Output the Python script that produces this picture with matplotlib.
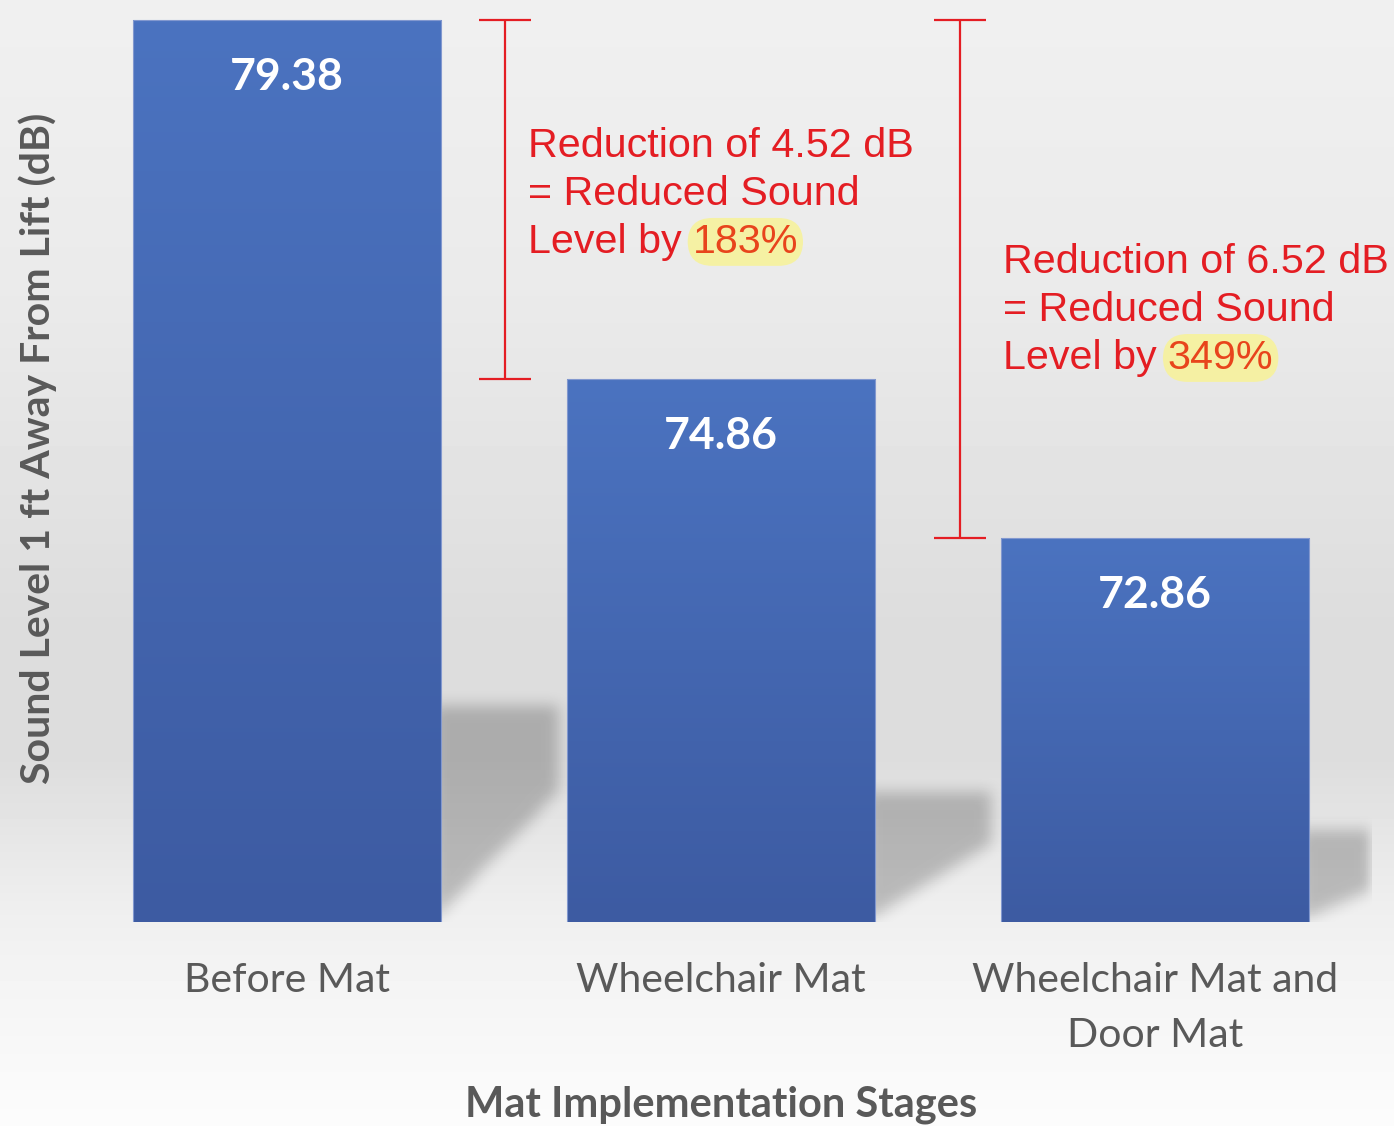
import numpy as np
import matplotlib.pyplot as plt
from matplotlib.path import Path

# data
stages = ['Before Mat', 'Wheelchair Mat', 'Wheelchair Mat and\nDoor Mat']
sound_db = [79.38, 74.86, 72.86]
reductions = [4.52, 6.52]
reduced_pct = ['183%', '349%']

plt.rcParams['font.family'] = ['Lato', 'DejaVu Sans']
GREY_TXT = '#595959'
RED = '#e41d23'


def smooth(a, n, passes=3):
    # cheap gaussian-ish blur: repeated box filter along both axes
    k = np.ones(n) / n
    for _ in range(passes):
        a = np.apply_along_axis(lambda r: np.convolve(r, k, mode='same'), 0, a)
        a = np.apply_along_axis(lambda r: np.convolve(r, k, mode='same'), 1, a)
    return a


fig = plt.figure(figsize=(13.94, 11.26), dpi=100)

### 1. backdrop: soft vertical grey gradient
bg = fig.add_axes([0, 0, 1, 1], zorder=-2)
rows = np.arange(1126)
grey = np.interp(rows, [0, 300, 620, 760, 900, 980, 1126],
                 [240, 234, 221, 221, 238, 244, 252]) / 255
bg.imshow(np.repeat(grey[:, None], 2, axis=1), cmap='gray', vmin=0, vmax=1,
          aspect='auto', extent=[0, 1, 0, 1])
bg.axis('off')

### 2. main axes
ax = fig.add_axes([70/1394, 204/1126, 1302/1394, 922/1126])
ax.patch.set_alpha(0)
base, top = 68.03, 79.63
x = np.arange(len(stages))
width = 0.71

bars = ax.bar(x, sound_db, width=width, color='none', edgecolor='#8298cf',
              linewidth=0.8, zorder=3)

# gradient fill clipped to each bar
top_c = np.array([0x4b, 0x73, 0xc0]) / 255
bot_c = np.array([0x3d, 0x5b, 0xa2]) / 255
g = np.linspace(0, 1, 256)[:, None, None]
grad_img = top_c * (1 - g) + bot_c * g
for b in bars:
    x0, x1 = b.get_x(), b.get_x() + b.get_width()
    im = ax.imshow(grad_img, extent=[x0, x1, base, b.get_height()],
                   aspect='auto', origin='upper', zorder=2)
    im.set_clip_path(b)

# floor shadows to the right of each bar (rasterised + blurred)
gx = np.linspace(-0.5, 2.5, 650)
gy = np.linspace(base, top, 460)
XX, YY = np.meshgrid(gx, gy)
grid_pts = np.c_[XX.ravel(), YY.ravel()]
mask = np.zeros(XX.shape)
for b in bars:
    xr = b.get_x() + b.get_width()
    sh_top = base + 0.24 * (b.get_height() - base)
    sh_end = base + 0.6 * (sh_top - base)
    xe = xr + 1 - width - 0.02
    poly = Path([(xr - 0.02, base), (xr - 0.02, sh_top), (xe, sh_top), (xe, sh_end),
                 (xr - 0.02, base)])
    mask += poly.contains_points(grid_pts).reshape(XX.shape)
mask = smooth(np.clip(mask, 0, 1), 7)
shadow = np.zeros(XX.shape + (4,))
shadow[..., 3] = 0.22 * mask
ax.imshow(shadow, extent=[-0.5, 2.5, base, top], origin='lower',
          aspect='auto', zorder=1)

# value labels
for b, v in zip(bars, sound_db):
    ax.annotate(f'{v:.2f}', xy=(b.get_x() + b.get_width() / 2, v),
                xytext=(0, -41), textcoords='offset points', ha='center',
                va='center', color='white', fontsize=32, fontweight='bold',
                zorder=4)

### 3. reduction brackets and notes
err_x = [0.502, 1.551]
for i, ex in enumerate(err_x):
    hi, lo = sound_db[0], sound_db[i + 1]
    ax.errorbar(ex, (hi + lo) / 2, yerr=(hi - lo) / 2, fmt='none', ecolor=RED,
                elinewidth=1.6, capsize=19, capthick=1.6, zorder=4)

note_x = [0.555, 1.650]
note_base = [77.656, 76.196]
line_step = 0.604
for i in range(2):
    lines = [f'Reduction of {reductions[i]:.2f} dB', '= Reduced Sound', 'Level by']
    for k, s in enumerate(lines):
        t = ax.text(note_x[i], note_base[i] - k * line_step, s, color=RED,
                    fontsize=29.7, family=['Liberation Sans'], va='baseline',
                    ha='left', zorder=5)
    ax.annotate(reduced_pct[i], xy=(1, 0), xycoords=t, xytext=(8, 0),
                textcoords='offset points', ha='left', va='bottom',
                color='#e8441c', fontsize=29.7, family=['Liberation Sans'],
                bbox=dict(boxstyle='round,pad=0.12,rounding_size=0.6',
                          fc='#f7f29c', ec='none', alpha=0.9), zorder=5)

ax.set_xlim(-0.5, 2.5)
ax.set_ylim(base, top)
ax.set_xticks(x, stages, fontsize=29.5, color=GREY_TXT, linespacing=1.6)
ax.tick_params(length=0, pad=29)
ax.set_yticks([])
for sp in ax.spines.values():
    sp.set_visible(False)

fig.text(38/1394, 1 - 448/1126, 'Sound Level 1 ft Away From Lift (dB)',
         rotation=90, ha='center', va='center', fontsize=29.5,
         fontweight='bold', color=GREY_TXT)
fig.text(721/1394, 1 - 1105/1126, 'Mat Implementation Stages', ha='center',
         va='center', fontsize=30, fontweight='bold', color=GREY_TXT)

fig.savefig('out.png', dpi=100)
